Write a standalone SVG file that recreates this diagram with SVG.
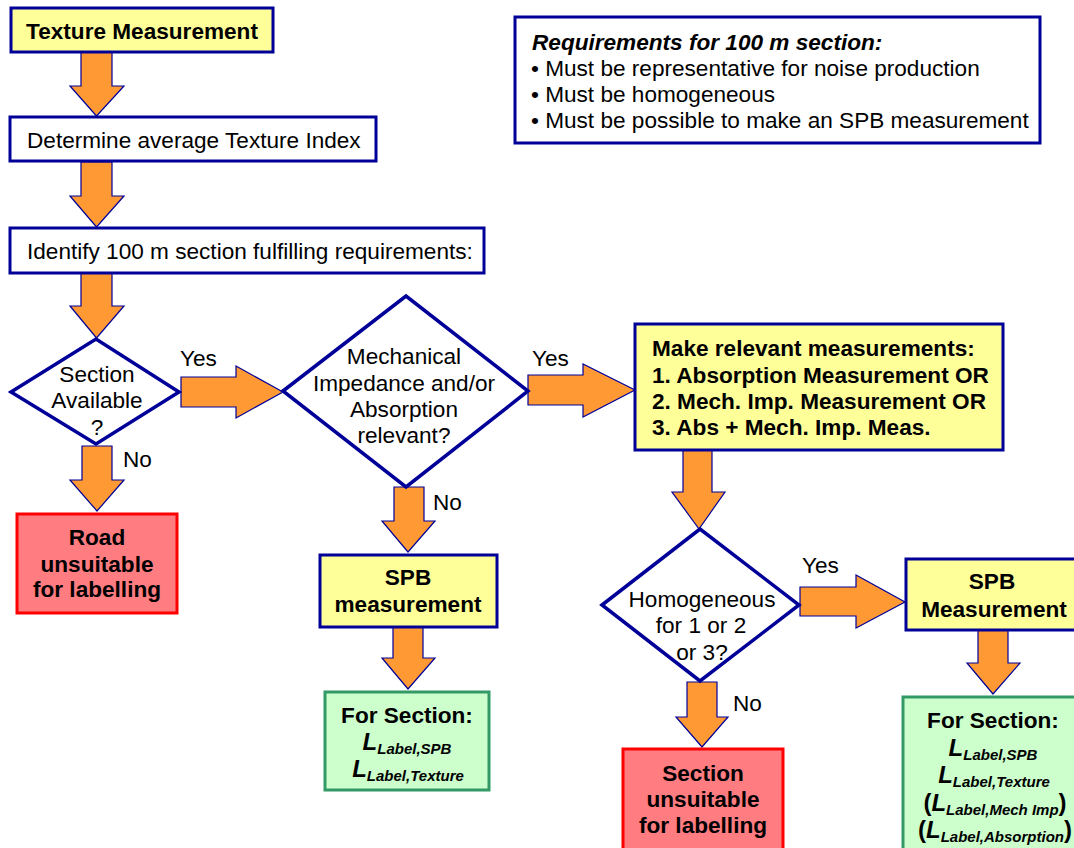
<svg xmlns="http://www.w3.org/2000/svg" width="1074" height="848" viewBox="0 0 1074 848">
<style>
.t{font-family:"Liberation Sans",Arial,sans-serif;font-size:22.6px;fill:#000}
.b{font-weight:bold}
.bi{font-weight:bold;font-style:italic}
.m{text-anchor:middle}
.box{fill:#fff;stroke:#000099;stroke-width:3}
.yel{fill:#FFFF99;stroke:#000099;stroke-width:3}
.red{fill:#FF7C80;stroke:#FF0000;stroke-width:3}
.grn{fill:#CCFFCC;stroke:#339966;stroke-width:3}
.dia{fill:#fff;stroke:#000099;stroke-width:3.5;stroke-linejoin:miter}
.arr{fill:#FF9933;stroke:#000099;stroke-width:1.2;stroke-linejoin:miter}
.L{font-size:24px}
.s{font-size:15px}
</style>
<rect width="1074" height="848" fill="#fff"/>
<g id="connectors">
<polygon class="arr" points="81,52 112,52 112,86 124,86 96.5,116 70,86 81,86"/>
<polygon class="arr" points="81,162 112,162 112,196 124,196 96.5,227 70,196 81,196"/>
<polygon class="arr" points="81,273 112,273 112,306 124,306 96.5,338 70,306 81,306"/>
<polygon class="arr" points="82,446 112,446 112,480 124,480 97,511 70,480 82,480"/>
<polygon class="arr" points="181,377 236,377 236,366 283,392 236,418 236,407 181,407"/>
<polygon class="arr" points="528,375 583,375 583,364 635,390 583,417 583,405 528,405"/>
<polygon class="arr" points="394,487 424,487 424,521 435,521 408,552 382,521 394,521"/>
<polygon class="arr" points="393,627 423,627 423,658 435,658 408,689 382,658 393,658"/>
<polygon class="arr" points="683,450 712,450 712,492 725,492 699,529 672,492 683,492"/>
<polygon class="arr" points="800,587 856,587 856,575 905,602 856,628 856,616 800,616"/>
<polygon class="arr" points="687,682 717,682 717,717 728,717 702,747 676,717 687,717"/>
<polygon class="arr" points="978,630 1008,630 1008,663 1020,663 993,694 967,663 978,663"/>
<text class="t" x="180" y="366">Yes</text>
<text class="t" x="532" y="366">Yes</text>
<text class="t" x="802" y="573">Yes</text>
<text class="t" x="123" y="467">No</text>
<text class="t" x="433" y="510">No</text>
<text class="t" x="733" y="711">No</text>
</g>
<g id="texture-measurement">
<rect class="yel" x="11" y="8" width="262" height="44"/>
<text class="t b m" x="142" y="39">Texture Measurement</text>
</g>
<g id="determine-index">
<rect class="box" x="10" y="117" width="366" height="44"/>
<text class="t" x="27" y="148">Determine average Texture Index</text>
</g>
<g id="identify-section">
<rect class="box" x="10" y="228" width="474" height="45"/>
<text class="t" x="27" y="259">Identify 100 m section fulfilling requirements:</text>
</g>
<g id="requirements">
<rect class="box" x="515" y="17" width="525" height="126"/>
<text class="t bi" x="532" y="50">Requirements for 100 m section:</text>
<text class="t" x="531" y="76">• Must be representative for noise production</text>
<text class="t" x="531" y="102">• Must be homogeneous</text>
<text class="t" x="531" y="128">• Must be possible to make an SPB measurement</text>
</g>
<g id="section-available">
<polygon class="dia" points="11,392 96,339 179,392 96,444"/>
<text class="t m" x="97" y="382">Section</text>
<text class="t m" x="97" y="408">Available</text>
<text class="t m" x="97" y="435">?</text>
</g>
<g id="road-unsuitable">
<rect class="red" x="17" y="514" width="160" height="99"/>
<text class="t b m" x="97" y="545">Road</text>
<text class="t b m" x="97" y="572">unsuitable</text>
<text class="t b m" x="97" y="597">for labelling</text>
</g>
<g id="mech-abs-relevant">
<polygon class="dia" points="283,391 406,296 528,391 406,487"/>
<text class="t m" x="404" y="364">Mechanical</text>
<text class="t m" x="404" y="391">Impedance and/or</text>
<text class="t m" x="404" y="417">Absorption</text>
<text class="t m" x="404" y="443">relevant?</text>
</g>
<g id="spb-measurement-1">
<rect class="yel" x="320" y="555" width="177" height="72"/>
<text class="t b m" x="408" y="585">SPB</text>
<text class="t b m" x="408" y="612">measurement</text>
</g>
<g id="for-section-1">
<rect class="grn" x="325" y="692" width="164" height="98"/>
<text class="t b m" x="407" y="723">For Section:</text>
<text class="t bi m" x="407" y="750"><tspan class="L">L</tspan><tspan class="s" dy="4">Label,SPB</tspan></text>
<text class="t bi m" x="408" y="777"><tspan class="L">L</tspan><tspan class="s" dy="4">Label,Texture</tspan></text>
</g>
<g id="make-measurements">
<rect class="yel" x="635" y="324" width="368" height="126"/>
<text class="t b" x="652" y="356">Make relevant measurements:</text>
<text class="t b" x="652" y="383">1. Absorption Measurement OR</text>
<text class="t b" x="652" y="409">2. Mech. Imp. Measurement OR</text>
<text class="t b" x="652" y="435">3. Abs + Mech. Imp. Meas.</text>
</g>
<g id="homogeneous">
<polygon class="dia" points="602,605 700,529 799,605 700,681"/>
<text class="t m" x="702" y="607">Homogeneous</text>
<text class="t m" x="701" y="633">for 1 or 2</text>
<text class="t m" x="702" y="660">or 3?</text>
</g>
<g id="section-unsuitable">
<rect class="red" x="623" y="749" width="160" height="106"/>
<text class="t b m" x="703" y="781">Section</text>
<text class="t b m" x="703" y="807">unsuitable</text>
<text class="t b m" x="703" y="833">for labelling</text>
</g>
<g id="spb-measurement-2">
<rect class="yel" x="906" y="559" width="174" height="71"/>
<text class="t b m" x="992" y="589">SPB</text>
<text class="t b m" x="994" y="617">Measurement</text>
</g>
<g id="for-section-2">
<rect class="grn" x="903" y="697" width="177" height="158"/>
<text class="t b m" x="993" y="728">For Section:</text>
<text class="t bi m" x="993" y="756"><tspan class="L">L</tspan><tspan class="s" dy="4">Label,SPB</tspan></text>
<text class="t bi m" x="994" y="783"><tspan class="L">L</tspan><tspan class="s" dy="4">Label,Texture</tspan></text>
<text class="t bi m" x="995" y="811"><tspan class="L" font-style="normal">(</tspan><tspan class="L">L</tspan><tspan class="s" dy="4">Label,Mech Imp</tspan><tspan class="L" dy="-4" font-style="normal">)</tspan></text>
<text class="t bi m" x="995" y="838"><tspan class="L" font-style="normal">(</tspan><tspan class="L">L</tspan><tspan class="s" dy="4">Label,Absorption</tspan><tspan class="L" dy="-4" font-style="normal">)</tspan></text>
</g>
</svg>
